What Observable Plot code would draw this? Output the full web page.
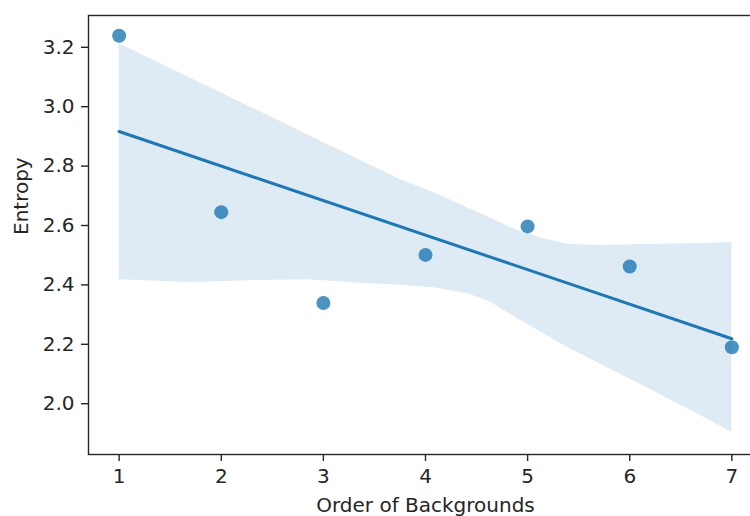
<!DOCTYPE html>
<html>
<head>
<meta charset="utf-8">
<script src="https://cdn.jsdelivr.net/npm/d3@7"></script>
<script src="https://cdn.jsdelivr.net/npm/@observablehq/plot@0.6"></script>
<style>
  html, body { margin: 0; padding: 0; background: #fff; overflow: hidden; }
  #chart { width: 750px; height: 516px; overflow: hidden; position: relative; }
  #chart svg { display: block; position: absolute; left: 0; top: 0;
    max-width: none !important; width: 765px !important; height: 516px !important; }
</style>
</head>
<body>
<div id="chart"></div>
<script>
// Observations: entropy for each background order
const order = [1, 2, 3, 4, 5, 6, 7];
const entropy = [3.239, 2.645, 2.339, 2.501, 2.597, 2.462, 2.190];

// Bootstrapped 95% confidence band around the fitted line
const bandX = [1, 1.7, 2.35, 2.85, 3.33, 3.75, 4.08, 4.41, 4.64, 4.9, 5.15, 5.39, 5.71, 6.03, 6.69, 7];
const bandUpper = [3.212, 3.096, 2.988, 2.905, 2.825, 2.755, 2.711, 2.660, 2.624, 2.583, 2.556, 2.537, 2.533, 2.535, 2.539, 2.543];
const bandLower = [2.417, 2.408, 2.415, 2.417, 2.406, 2.399, 2.390, 2.371, 2.342, 2.287, 2.237, 2.189, 2.134, 2.078, 1.961, 1.903];

const xTicks = [1, 2, 3, 4, 5, 6, 7];
const yTicks = [2.0, 2.2, 2.4, 2.6, 2.8, 3.0, 3.2];

const points = order.map((x, i) => ({x, y: entropy[i]}));
const band = bandX.map((x, i) => ({x, lo: bandLower[i], hi: bandUpper[i]}));

const blue = "#1f77b4";
const ink = "#262626";
const font = "DejaVu Sans";

// The axes run past the right edge of the 750px view, so the SVG is wider and clipped by its container.
const chart = Plot.plot({
  width: 765,
  height: 516,
  marginLeft: 88,
  marginRight: 3,
  marginTop: 15,
  marginBottom: 62,
  style: {fontFamily: font, fontSize: "20px", color: ink, background: "#fff"},
  x: {domain: [0.7, 7.3]},
  y: {domain: [1.829, 3.307]},
  marks: [
    Plot.dot(points, {x: "x", y: "y", r: 7, fill: blue, fillOpacity: 0.8, stroke: null}),
    Plot.areaY(band, {x: "x", y1: "lo", y2: "hi", fill: blue, fillOpacity: 0.15, curve: "linear"}),
    Plot.linearRegressionY(points, {x: "x", y: "y", stroke: blue, strokeWidth: 3, ci: 0}),
    Plot.axisX({ticks: xTicks, tickSize: 7, tickPadding: 7, tickFormat: d3.format("d"),
      label: null, fontSize: 20, stroke: ink, strokeWidth: 1.4, fill: ink}),
    Plot.axisY({ticks: yTicks, tickSize: 7, tickPadding: 7, tickFormat: d3.format(".1f"),
      label: null, fontSize: 20, stroke: ink, strokeWidth: 1.4, fill: ink}),
    Plot.frame({stroke: ink, strokeWidth: 1.4}),
    Plot.text(["Order of Backgrounds"], {frameAnchor: "bottom", lineAnchor: "top", dy: 43,
      fontSize: 20, fill: ink, text: d => d}),
    Plot.text(["Entropy"], {frameAnchor: "left", lineAnchor: "top", rotate: -90, dx: -74.5,
      fontSize: 20, fill: ink, text: d => d})
  ]
});

document.getElementById("chart").appendChild(chart);
</script>
</body>
</html>
